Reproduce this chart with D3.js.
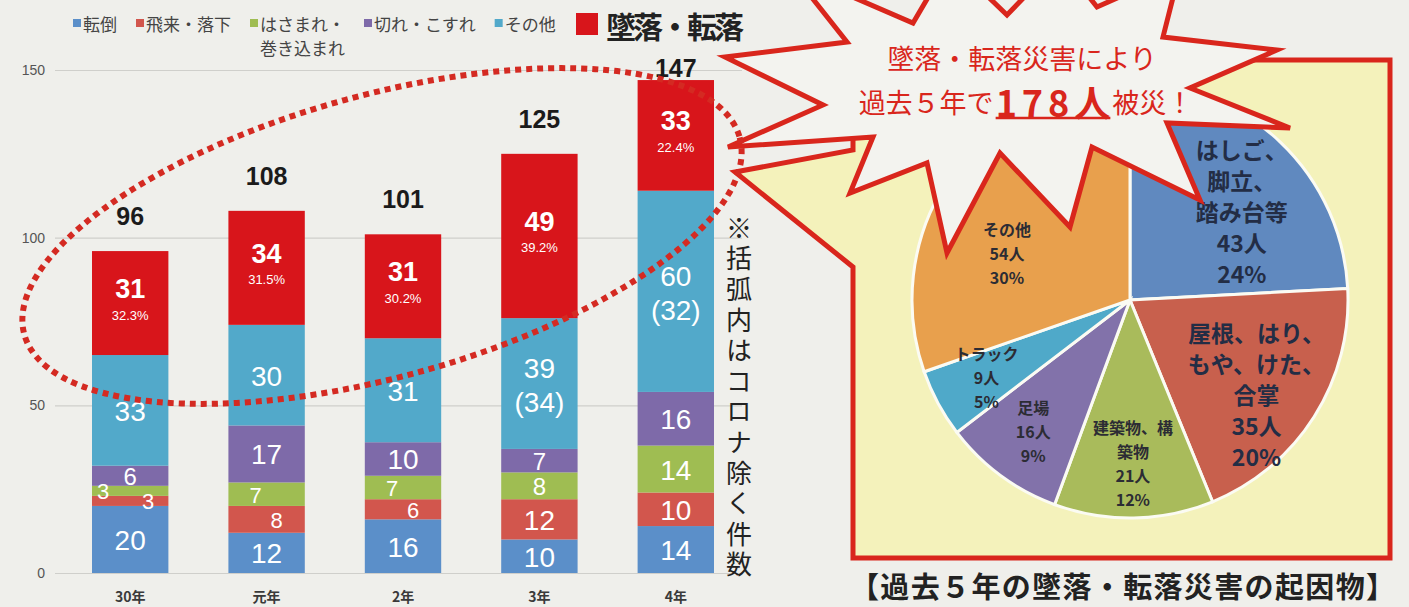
<!DOCTYPE html>
<html>
<head>
<meta charset="utf-8">
<script src="https://cdn.jsdelivr.net/npm/d3@7"></script>
<style>
  html, body { margin: 0; padding: 0; background: #efefeb; }
  svg { display: block; }
</style>
</head>
<body>
<div id="chart"></div>
<script>
// bar chart data (件数)
var years = ["30年", "元年", "2年", "3年", "4年"];
var seriesNames = ["転倒", "飛来・落下", "はさまれ・巻き込まれ", "切れ・こすれ", "その他", "墜落・転落"];
var tentou = [20, 12, 16, 10, 14];
var hirai = [3, 8, 6, 12, 10];
var hasamare = [3, 7, 7, 8, 14];
var kire = [6, 17, 10, 7, 16];
var sonota = [33, 30, 31, 39, 60];
var tsuiraku = [31, 34, 31, 49, 33];
var sonotaExCorona = [null, null, null, 34, 32]; // 括弧内はコロナ除く
var tsuirakuPct = ["32.3%", "31.5%", "30.2%", "39.2%", "22.4%"];
var yTicks = [0, 50, 100, 150];

// pie data (過去5年の墜落・転落災害の起因物)
var pieNames = ["はしご、|脚立、|踏み台等", "屋根、はり、|もや、けた、|合掌", "建築物、構|築物", "足場", "トラック", "その他"];
var pieValues = [43, 35, 21, 16, 9, 54];

var barColors = ["#5b8fc9", "#d2564d", "#9fbd52", "#7e6aa9", "#52a9ca", "#d8151b"];
var pieColors = ["#6089bf", "#c8604d", "#a9bb5b", "#8272aa", "#4fa9c9", "#e8a04d"];
var RED = "#d9261c";
var BG = "#efefeb";
var NUM_FONT = "'Liberation Sans', Arial, sans-serif";
var JP_FONT = "'Noto Sans CJK JP', 'Noto Sans', sans-serif";

var svg = d3.select("#chart").append("svg")
  .attr("width", 1409)
  .attr("height", 607);

svg.append("rect").attr("width", 1409).attr("height", 607).attr("fill", BG);

// ---------- stacked bars ----------
var table = years.map(function (y, i) {
  return {
    year: y, i: i,
    "転倒": tentou[i], "飛来・落下": hirai[i], "はさまれ・巻き込まれ": hasamare[i],
    "切れ・こすれ": kire[i], "その他": sonota[i], "墜落・転落": tsuiraku[i]
  };
});
var totals = table.map(function (d) { return d3.sum(seriesNames, function (k) { return d[k]; }); });

var xscale = d3.scaleBand().domain(years).range([62, 744]).paddingInner(0.44).paddingOuter(0.22);
var yscale = d3.scaleLinear().domain([0, 150]).range([573, 70]);

// gridlines + tick labels
var yaxis = d3.axisLeft(yscale).tickValues(yTicks).tickSize(-(742 - 55)).tickPadding(10);
var gAxis = svg.append("g").attr("transform", "translate(55,0)").call(yaxis);
gAxis.select(".domain").remove();
gAxis.selectAll(".tick line").attr("stroke", "#cfcfcb").attr("stroke-width", 1.2);
gAxis.selectAll(".tick text")
  .attr("fill", "#555").style("font-family", NUM_FONT).style("font-size", "14px");

var stack = d3.stack().keys(seriesNames)(table);

var layers = svg.append("g").selectAll("g")
  .data(stack)
  .enter().append("g")
  .attr("fill", function (d, k) { return barColors[k]; });

layers.selectAll("rect")
  .data(function (d) { return d; })
  .enter().append("rect")
  .attr("x", function (d) { return xscale(d.data.year); })
  .attr("y", function (d) { return yscale(d[1]); })
  .attr("width", xscale.bandwidth())
  .attr("height", function (d) { return yscale(d[0]) - yscale(d[1]); });

// segment labels
var gLab = svg.append("g")
  .style("font-family", NUM_FONT)
  .attr("fill", "#fff")
  .attr("text-anchor", "middle")
  .attr("dominant-baseline", "central");

stack.forEach(function (layer, k) {
  layer.forEach(function (d) {
    var v = d[1] - d[0];
    var cx = xscale(d.data.year) + xscale.bandwidth() / 2;
    var segH = yscale(d[0]) - yscale(d[1]);
    var cy = (yscale(d[0]) + yscale(d[1])) / 2;
    var i = d.data.i;
    if (k === 5) {
      gLab.append("text").attr("x", cx).attr("y", cy - 14)
        .style("font-size", "27px").style("font-weight", "bold").text(v);
      gLab.append("text").attr("x", cx).attr("y", cy + 12)
        .style("font-size", "13px").text(tsuirakuPct[i]);
      return;
    }
    if (k === 4 && sonotaExCorona[i] !== null) {
      gLab.append("text").attr("x", cx).attr("y", cy - 15)
        .style("font-size", "28px").text(v);
      gLab.append("text").attr("x", cx).attr("y", cy + 19)
        .style("font-size", "28px").text("(" + sonotaExCorona[i] + ")");
      return;
    }
    var dx = 0, fs = segH < 29 ? 24 : 28;
    if (k === 1 && v < 9) { fs = 22; dx = v <= 3 ? 18 : 10; }
    if (k === 2 && v < 8) { fs = 22; dx = v <= 3 ? -27 : -11; }
    gLab.append("text").attr("x", cx + dx).attr("y", cy + 1)
      .style("font-size", fs + "px").text(v);
  });
});

// totals above bars
svg.append("g").selectAll("text")
  .data(table)
  .enter().append("text")
  .attr("x", function (d) { return xscale(d.year) + xscale.bandwidth() / 2; })
  .attr("y", function (d, i) { return Math.max(yscale(totals[i]) - 35, 68); })
  .attr("text-anchor", "middle")
  .attr("dominant-baseline", "central")
  .attr("fill", "#1b1b1b")
  .style("font-family", NUM_FONT)
  .style("font-size", "25px")
  .style("font-weight", "bold")
  .text(function (d, i) { return totals[i]; });

// x axis labels
var xaxis = d3.axisBottom(xscale).tickSize(0).tickPadding(0);
var gx = svg.append("g").attr("transform", "translate(0,592)").call(xaxis);
gx.select(".domain").remove();
gx.selectAll(".tick text")
  .attr("fill", "#3a3a3a")
  .style("font-family", JP_FONT)
  .style("font-size", "14px")
  .style("font-weight", "bold");

// legend
var legend = svg.append("g").style("font-family", JP_FONT);
var lx = 73;
seriesNames.slice(0, 5).forEach(function (name, k) {
  legend.append("rect").attr("x", lx).attr("y", 19).attr("width", 8).attr("height", 8)
    .attr("fill", barColors[k]);
  var firstLine = name === "はさまれ・巻き込まれ" ? "はさまれ・" : name;
  var t = legend.append("text").attr("x", lx + 10).attr("y", 23)
    .attr("dominant-baseline", "central")
    .attr("fill", "#444").style("font-size", "17px").text(firstLine);
  if (firstLine !== name) {
    legend.append("text").attr("x", lx + 10).attr("y", 47)
      .attr("dominant-baseline", "central")
      .attr("fill", "#444").style("font-size", "17px").text("巻き込まれ");
  }
  lx += 10 + t.node().getComputedTextLength() + 19;
});
legend.append("rect").attr("x", 576).attr("y", 13).attr("width", 22).attr("height", 22)
  .attr("fill", barColors[5]);
legend.append("text").attr("x", 606).attr("y", 25)
  .attr("dominant-baseline", "central")
  .attr("fill", "#222").style("font-size", "30px").style("font-weight", "bold")
  .style("letter-spacing", "-3px")
  .text(seriesNames[5]);

// vertical note
svg.append("text")
  .attr("x", 739)
  .attr("y", 215)
  .attr("fill", "#222")
  .style("font-family", JP_FONT)
  .style("font-size", "26px")
  .style("writing-mode", "vertical-rl")
  .style("letter-spacing", "4.6px")
  .text("※括弧内はコロナ除く件数");

// ---------- callout box with pie ----------
svg.append("path")
  .attr("d", "M853,267 L735,172 L853,150 L853,60 L1390,60 L1390,558 L853,558 Z")
  .attr("fill", "#f4f2bb")
  .attr("stroke", RED)
  .attr("stroke-width", 5)
  .attr("stroke-linejoin", "miter");

var pieCx = 1130, pieCy = 300, pieR = 218;
var pie = d3.pie().sort(null).value(function (d) { return d; });
var arcs = pie(pieValues);
var arc = d3.arc().innerRadius(0).outerRadius(pieR);
var pieTotal = d3.sum(pieValues);

var gPie = svg.append("g").attr("transform", "translate(" + pieCx + "," + pieCy + ")");
gPie.selectAll("path")
  .data(arcs)
  .enter().append("path")
  .attr("d", arc)
  .attr("fill", function (d, i) { return pieColors[i]; })
  .attr("stroke", "#fbfbf3")
  .attr("stroke-width", 3);

arcs.forEach(function (a, i) {
  var big = i < 2;
  var fs = big ? 23 : 16;
  var lh = big ? 31 : 24;
  var lr = big ? 145 : 163;
  var mid = (a.startAngle + a.endAngle) / 2;
  var cx = Math.sin(mid) * lr + (i === 0 ? 12 : big ? 4 : 0);
  var cy = -Math.cos(mid) * lr + (big ? 16 : 0);
  if (i === 5) { cx = -123; cy = -47; }
  var lines = pieNames[i].split("|").concat([pieValues[i] + "人", Math.round(pieValues[i] / pieTotal * 100) + "%"]);
  var top = cy - (lines.length - 1) * lh / 2;
  lines.forEach(function (ln, j) {
    gPie.append("text")
      .attr("x", cx).attr("y", top + j * lh)
      .attr("text-anchor", "middle")
      .attr("dominant-baseline", "central")
      .attr("fill", big ? "#232d45" : "#2c2c34")
      .style("font-family", JP_FONT)
      .style("font-size", fs + "px")
      .style("font-weight", "bold")
      .text(ln);
  });
});

// ---------- starburst ----------
var burst = [[725,57],[847,42],[790,-30],[913,23],[950,-40],[1007,15],[1060,-40],[1097,7],[1180,-30],[1163,37],
  [1277,50],[1190,88],[1290,128],[1167,123],[1200,200],[1092,147],[1070,227],[1000,153],[947,253],[927,163],
  [850,193],[873,137],[728,147],[823,105]];
svg.append("path")
  .attr("d", d3.line()(burst) + "Z")
  .attr("fill", "#f3f3ef")
  .attr("stroke", RED)
  .attr("stroke-width", 5)
  .attr("stroke-linejoin", "miter");

var gB = svg.append("g").style("font-family", JP_FONT).attr("fill", RED);
gB.append("text").attr("x", 1022).attr("y", 57)
  .attr("text-anchor", "middle").attr("dominant-baseline", "central")
  .style("font-size", "27px").text("墜落・転落災害により");

var parts = [
  { t: "過去５年で", size: 27, bold: false, ls: 0 },
  { t: "178人", size: 36, bold: true, ls: 5 },
  { t: "被災！", size: 27, bold: false, ls: 0 }
];
var partNodes = parts.map(function (p) {
  return gB.append("text").attr("y", 101).attr("dominant-baseline", "central")
    .style("font-size", p.size + "px").style("font-weight", p.bold ? "bold" : "normal")
    .style("letter-spacing", p.ls + "px")
    .text(p.t);
});
var widths = partNodes.map(function (n, j) { return n.node().getComputedTextLength() - parts[j].ls; });
var px = 1024 - d3.sum(widths) / 2;
partNodes.forEach(function (n, j) {
  n.attr("x", px);
  if (parts[j].bold) {
    gB.append("line").attr("x1", px).attr("x2", px + widths[j])
      .attr("y1", 118).attr("y2", 118)
      .attr("stroke", RED).attr("stroke-width", 2.5);
  }
  px += widths[j] + 2;
});

// caption
svg.append("text")
  .attr("x", 850).attr("y", 585)
  .attr("dominant-baseline", "central")
  .attr("fill", "#222")
  .attr("textLength", 545)
  .style("font-family", JP_FONT)
  .style("font-size", "29px")
  .style("font-weight", "bold")
  .text("【過去５年の墜落・転落災害の起因物】");

// dotted ellipse
svg.append("ellipse")
  .attr("cx", 0).attr("cy", 0).attr("rx", 371).attr("ry", 141)
  .attr("transform", "translate(382,236) rotate(-15.4)")
  .attr("fill", "none")
  .attr("stroke", "#d42a22")
  .attr("stroke-width", 6)
  .attr("stroke-dasharray", "6 5");
</script>
</body>
</html>
